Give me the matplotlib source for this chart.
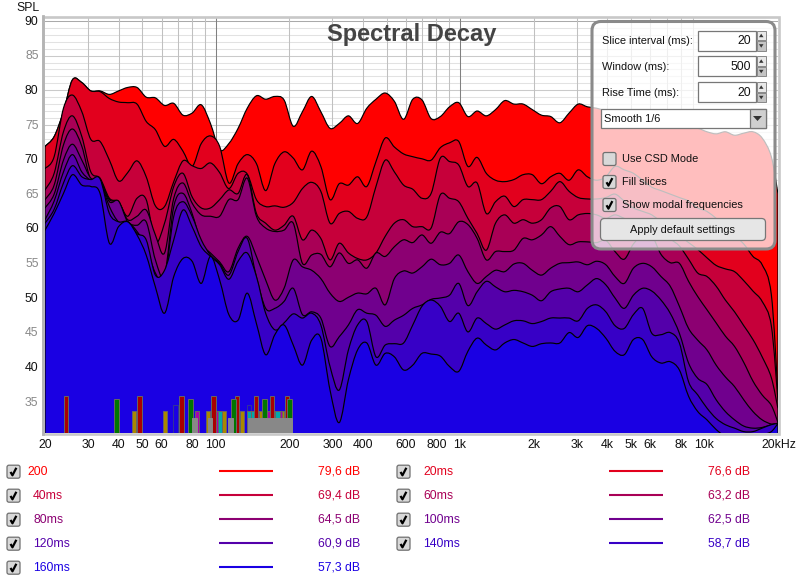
import numpy as np
import matplotlib
matplotlib.use("Agg")
import matplotlib.pyplot as plt
from matplotlib.path import Path
from matplotlib.patches import PathPatch, FancyBboxPatch, Rectangle, Polygon

plt.rcParams['font.family'] = ['Liberation Sans', 'DejaVu Sans']

freqs = [20, 21.8, 23.8, 25.9, 28.3, 30.8, 33.6, 36.7, 40, 43.6, 47.6, 51.9, 56.6, 61.7, 67.3, 73.4,
         80, 87.2, 95.1, 103.7, 113.1, 123.4, 134.5, 146.7, 160, 174.5, 190.3, 207.5, 226.3, 246.8,
         269.1, 293.5, 320, 349, 380.5, 415, 452.5, 493.6, 538.2, 587, 640, 698, 761, 830, 905, 987,
         1076, 1174, 1280, 1396, 1522, 1660, 1810, 1974, 2153, 2348, 2560, 2792, 3044, 3320, 3620,
         3948, 4305, 4695, 5120, 5584, 6089, 6640, 7241, 7896, 8611, 9390, 10240, 11167, 12178,
         13280, 14482, 15793, 17222, 18780, 20000]

slice_200 = [71.9,73.3,76.9,81.5,81.1,79.9,79.9,79.4,79.9,80.4,
             80.4,79.0,78.9,77.8,78.1,76.4,76.7,77.9,75.2,71.4,
             72.3,74.5,77.4,79.2,78.7,79.1,78.6,74.8,76.9,79.1,
             76.9,74.5,75.2,76.3,75.2,77.4,78.7,79.6,78.4,75.8,
             78.7,78.6,75.9,76.2,77.6,78.2,76.2,77.0,76.3,77.2,
             78.5,78.0,78.0,77.2,76.4,76.2,75.3,76.7,78.0,77.6,
             77.4,77,76.5,76,76.5,76,75.5,75.5,75,75,
             74.5,74.5,74,73.7,74.0,73.5,73.8,74,73.1,70.4,65]
slice_20 = [71.9,73.3,76.9,81.5,81.1,79.9,79.8,78.8,78.3,78.2,
            78.0,75.5,74.3,71.9,72.9,71.2,69.0,72.3,73.4,71.9,
            66.6,69.4,70.7,69.4,65.5,69.4,71.1,70.2,68.5,71.2,
            69.0,64.2,66.5,66.3,67.5,66.1,69.7,73.1,71.8,70.8,
            70.4,70.1,69.9,71.7,72.4,72.6,69.0,70.3,68.0,67.0,
            66.8,67.1,67.8,67.8,66.5,67.5,68.0,67.0,68.5,67.5,
            67.0,67.5,69,68.5,68,67,66,65.5,65,64.5,
            64,63,62.5,61.5,60.5,59,57.8,56.0,54.8,50.5,36]
slice_40 = [68.7,70.4,77.4,79.3,76.9,72.9,72.6,69.9,66.9,68.1,
            69.8,67.5,63.3,63.2,66.8,69.8,69.1,68.7,69.5,68.1,
            65.8,68.0,67.9,64.2,63.2,63.3,63.1,63.8,65.8,66.7,
            65.4,60.8,62.2,62.5,61.5,61.7,66.1,69.9,68.2,66.3,
            65.7,64.4,65.1,70.2,69.7,69.2,66.1,66.6,62.2,63.9,
            64.7,63.2,64.2,64.2,64.2,65.4,66.8,65.4,64.5,64.3,
            64.3,64.5,65,64,63,62.5,62,61,60,59,
            58,57,55.8,54.7,54.2,53.8,52.5,51,49.5,46,35]
slice_60 = [65.6,68.0,74.0,76.3,73.3,68.2,67.3,64.4,63.9,61.8,
            64.4,64.2,58.1,60.8,66.1,68.0,64.6,63.0,63.0,64.2,
            65.6,65.1,67.8,62.2,60.8,59.8,60.5,61.8,58.4,59.8,
            58.6,55.5,57.9,56.5,55.7,55.5,56.5,58.9,60.8,61.3,
            60.3,60.3,60.1,64.9,64.4,63.9,61.5,59.3,56.9,60.8,
            62.0,60.8,61.3,60.8,61.3,63.0,63.2,61.3,62.0,62.2,
            62,61.5,62,61.5,61,60.5,60,59.3,58.5,57.5,
            55.6,53.6,53.1,51.7,49.7,48,46,44,41.5,38.5,34]
slice_80 = [64.2,66.3,72.1,74.4,71.9,67.0,67.0,64.2,63.9,61.3,
            61.8,62.7,59.1,56.5,64.4,66.6,63.7,62.0,61.8,61.8,
            64.2,64.2,67.3,61.8,60.1,59.6,59.8,60.8,55.0,56.2,
            56.3,54.5,56.5,55.0,55.5,54.3,56.5,56.0,57.4,58.4,
            58.0,59.1,57.9,59.5,59.3,61.0,60.6,58.6,55.5,56.7,
            56.7,56.9,58.6,58.4,59.1,60.3,58.9,57.7,58.1,58.1,
            58,58.3,56.7,55.6,57.8,59,59,56.3,55.1,55.0,
            52.4,50.2,48.3,46.4,44.5,43,40.7,38,36,34.5,32]
slice_100 = [63,65,69.9,72.2,69.9,67.3,67.0,63.9,64.0,61,
             60.5,61,55.5,53.3,63.2,65.1,62.2,57.9,56.5,55.2,
             53.8,57.2,58.9,56,52.6,49.7,51.4,55.5,54.5,54.0,
             52.8,50.7,49.5,50.1,50.7,50.6,51.4,49,52.8,53.9,
             53.6,54.5,55.6,54.8,55,56.2,53.8,52.1,53.1,54.0,
             53.8,54.9,55.0,54,53.3,54.3,55,55.1,55.2,54.8,
             55.3,54.8,53.1,52.1,54.3,55,54.5,53.1,51.7,48.8,
             45.6,43.9,42.5,40.3,38.6,37.2,35.3,33.6,32.4,31.8,31.9]
slice_120 = [61.3,64,68.2,70.7,68.2,67,66.8,63.2,61,61,
             59.6,57.4,53.6,52.7,61.8,63.9,61.8,58.4,56.2,55,
             53.3,56.7,58.6,53,48.5,48.5,49.5,51.4,47.6,48.0,
             47.1,43,44.4,46.1,48.3,47.8,47.5,45.9,46.8,47.5,
             48.5,49,49.8,50,50.4,52.1,48.9,50.9,52.4,51.6,
             50.9,51.1,50.9,50.4,49.6,50.9,51.3,51.4,50.9,51.9,
             52.8,51.9,50,48.5,50.4,51.4,51,49.7,47.8,44.9,
             40.6,38.4,37.5,35.3,33.6,32.4,31.5,31.2,31.3,31.7,31.9]
slice_140 = [60.8,62.8,66.6,69.1,67.5,67.1,67.2,62.2,61,61,
             59.3,58.4,53.3,54.0,58.4,62.7,60.3,57.4,56,54.8,
             52.7,55.3,56.5,53.1,47.8,45.4,46.4,47.7,47.1,47.8,
             46.1,40.1,36.7,42.5,46.1,46.6,41.5,43.2,43.4,43.5,
             46.1,48.8,49.7,48.8,46.6,47.8,45.1,47.1,46.3,45.5,
             46.1,46.7,46.7,46.3,46.6,47.1,47.1,47.1,46.7,48.5,
             49,48,46,45.6,47.6,48.5,44.9,44.7,45,43.5,
             37.9,36,34.1,32.6,31.7,31.2,30.7,30.7,31.2,31.7,31.9]
slice_160 = [59.8,62.2,65.1,67.8,66.3,66.1,65.1,57.9,60.3,61.0,
             59.1,56.2,51.6,47.8,53.1,55.7,55.3,52.1,56.0,52.6,
             47.6,46.8,50.7,46.3,41.8,44.7,46.1,43.2,40.3,43.9,
             44.2,36.7,32.0,38.2,42.5,43.5,40.3,42.0,41.5,39.6,
             40.3,42.0,41.9,41.6,40.1,39.4,42.3,44.2,43.2,42.5,
             43.5,44.0,43.5,43.0,43.4,43.5,43.5,45.0,44.3,46.0,
             45.6,44.2,42.3,41.8,44.0,44.0,41.5,40.6,40.8,39.6,
             35.8,33.6,32.4,31.0,30.0,29.5,29.3,29.5,30.2,30.7,31.9]

slices = [slice_200, slice_20, slice_40, slice_60, slice_80, slice_100, slice_120, slice_140, slice_160]
slice_colors = ['#ff0000', '#e2001d', '#c6003a', '#a90056', '#8c0072', '#70008e', '#5400aa', '#3700c6', '#1a00e3']

legend_names = ['200', '20ms', '40ms', '60ms', '80ms', '100ms', '120ms', '140ms', '160ms']
legend_values = ['79,6 dB', '76,6 dB', '69,4 dB', '63,2 dB', '64,5 dB', '62,5 dB', '60,9 dB', '58,7 dB', '57,3 dB']

RED, GRN, GLD, PUR, TEA, GRY, NAV = '#aa0000', '#007700', '#aa8800', '#aa00aa', '#00aaaa', '#888888', '#1a00e3'
modal_freqs = [68.4, 136.6,
               46.2, 62, 92.8, 108, 127.8, 122, 118.6, 153, 171, 188, 195,
               72, 83.7, 101, 120, 147, 165, 183,
               78.4, 104, 136.6, 141.8, 158.8, 179,
               24.4, 48.6, 72.3, 97.6, 122, 146, 170, 196,
               39.3, 79, 118, 158, 200,
               82, 94.6, 115, 138, 143, 148, 153, 158, 164, 170, 176, 182, 188, 194, 200]
modal_tops = [34.5, 34.5] + [33.7]*11 + [33.7]*7 + [33.7]*6 + [35.9]*8 + [35.4]*5 + [32.7]*15
modal_colors = [NAV, NAV] + [GLD]*11 + [PUR]*7 + [TEA]*6 + [RED]*8 + [GRN]*5 + [GRY]*15

xtick_vals = [20, 30, 40, 50, 60, 80, 100, 200, 300, 400, 600, 800, 1000, 2000, 3000, 4000, 5000, 6000, 8000, 10000, 20000]
xtick_text = ['20', '30', '40', '50', '60', '80', '100', '200', '300', '400', '600', '800', '1k', '2k', '3k', '4k', '5k', '6k', '8k', '10k', '20kHz']
ytick_vals = [35, 40, 45, 50, 55, 60, 65, 70, 75, 80, 85, 90]

W, H = 800, 582
fig = plt.figure(figsize=(W/100, H/100), dpi=100)
fig.patch.set_facecolor('white')
T, B, L, R = 18, 433, 45, 778
ax = fig.add_axes([L/W, 1-B/H, (R-L)/W, (B-T)/H])
ax.set_xscale('log')
YMIN = 30.5
ax.set_xlim(20, 20000)
ax.set_ylim(YMIN, 90.43)
for s in ax.spines.values():
    s.set_visible(False)
ax.set_xticks([]); ax.set_yticks([])
ax.minorticks_off()
ax.tick_params(which='both', length=0, labelbottom=False, labelleft=False)

for v in np.arange(31, 91):
    c = '#aaaaaa' if v == 90 else '#cacaca' if v % 5 == 0 else '#e2e2e2'
    ax.axhline(v, color=c, lw=0.75, zorder=1)
for dec in (10, 100, 1000):
    for m in range(1, 10):
        f = dec*m
        if 20 < f < 20000:
            ax.axvline(f, color='#808080' if f in (100, 1000) else '#a8a8a8' if f == 10000 else '#c0c0c0', lw=0.75, zorder=1.5)


def smooth_path(xs, ys, base):
    lx = np.log10(np.asarray(xs, float))
    y = np.asarray(ys, float)
    verts = [(lx[0], y[0])]
    codes = [Path.MOVETO]
    n = len(lx)
    for i in range(n-1):
        p0 = (lx[max(i-1, 0)], y[max(i-1, 0)])
        p1 = (lx[i], y[i])
        p2 = (lx[i+1], y[i+1])
        p3 = (lx[min(i+2, n-1)], y[min(i+2, n-1)])
        c1 = (p1[0]+(p2[0]-p0[0])/6, p1[1]+(p2[1]-p0[1])/6)
        c2 = (p2[0]-(p3[0]-p1[0])/6, p2[1]-(p3[1]-p1[1])/6)
        verts += [c1, c2, p2]
        codes += [Path.CURVE4]*3
    verts = [(10**a, b) for a, b in verts]
    verts += [(xs[-1], base), (xs[0], base), (xs[0], ys[0])]
    codes += [Path.LINETO, Path.LINETO, Path.LINETO]
    return Path(verts, codes)


for i, (vals, col) in enumerate(zip(slices, slice_colors)):
    ax.add_patch(PathPatch(smooth_path(freqs, vals, YMIN-3), facecolor=col, edgecolor='black',
                           lw=0.85, zorder=3+i*0.1, joinstyle='round'))

half = 10**(2.3/244.5)
for f, top, col in zip(modal_freqs, modal_tops, modal_colors):
    edge = col if col == GRY else '#333399' if col == NAV else '#666666'
    ax.bar(f/half, top-YMIN, width=f*half-f/half, bottom=YMIN, align='edge', facecolor=col,
           edgecolor=edge, lw=0.7, zorder=5)

# overlay in pixel coordinates for frame, labels, legend and the control panel
ov = fig.add_axes([0, 0, 1, 1], zorder=5)
ov.set_xlim(0, W); ov.set_ylim(H, 0)
ov.axis('off')
ov.patch.set_alpha(0)

ov.add_patch(Rectangle((43.2, 16.5), 735.8, 417.7, fill=False, ec='#c8c8c8', lw=1.9))
ov.plot([43.2, 43.2], [16, 434], color='#b4b4b4', lw=2)

FS = 8.8
to_px_x = lambda f: L + (R-L)*np.log10(f/20)/3
to_px_y = lambda v: T + (B-T)*(90.43-v)/(90.43-YMIN)
for v in ytick_vals:
    ov.text(38.5, to_px_y(v)+0.7, str(v), ha='right', va='center', fontsize=FS, color='#111111' if v % 10 == 0 else '#888888')
ov.text(27.5, 8, 'SPL', ha='center', va='center', fontsize=FS, color='#111111')
for v, t in zip(xtick_vals, xtick_text):
    if t == '20kHz':
        ov.text(761, 445, t, ha='left', va='center', fontsize=FS, color='#111111')
    else:
        ov.text(to_px_x(v), 445, t, ha='center', va='center', fontsize=FS, color='#111111')

ov.text(411.5, 34, 'Spectral Decay', ha='center', va='center', fontsize=17, fontweight='bold', color='#444444')


def box(x0, y0, x1, y1, fc, ec='#777777', lw=0.8, r=1.5, z=6, alpha=None):
    p = FancyBboxPatch((x0+r, y0+r), x1-x0-2*r, y1-y0-2*r, boxstyle=f'round,pad={r},rounding_size={r}',
                       fc=fc, ec=ec, lw=lw, zorder=z, alpha=alpha)
    ov.add_patch(p)
    return p


def checkbox(x, y, size=13):
    box(x, y, x+size, y+size, '#d8d8d8', ec='#707070', lw=0.9, r=2, z=7)


def check(x, y, size=13):
    ov.plot([x+size*0.27, x+size*0.42, x+size*0.72], [y+size*0.52, y+size*0.78, y+size*0.2],
            color='black', lw=1.6, zorder=8, solid_capstyle='butt')


# legend
rows = [471.7, 495.7, 519.7, 543.7, 567.7]
for i in range(9):
    col = slice_colors[i]
    col_idx = i % 2
    row = i // 2
    y = rows[row]
    dx = 0 if col_idx == 0 else 390
    checkbox(7+dx, y-6.5)
    check(7+dx, y-6.5)
    lx = 27 if i == 0 else 33
    ov.text(lx+dx, y, legend_names[i], ha='left', va='center', fontsize=FS, color=col)
    ov.plot([219+dx, 273+dx], [y-0.5, y-0.5], color=col, lw=1.5, solid_capstyle='butt')
    ov.text(360+dx, y, legend_values[i], ha='right', va='center', fontsize=FS, color=col)

# control panel
box(592, 21.5, 775, 249, (1, 1, 1, 0.75), ec='#8a8a8a', lw=2.2, r=9, z=6)
for lab, y, val, y0 in [('Slice interval (ms):', 41, '20', 30.7), ('Window (ms):', 67, '500', 56.3), ('Rise Time (ms):', 93, '20', 82.3)]:
    ov.text(602, y, lab, ha='left', va='center', fontsize=7.9, color='#111111', zorder=9)
    ov.add_patch(Rectangle((697.5, y0), 58, 20, fc='white', ec='#777777', lw=0.9, zorder=7))
    ov.text(751, y0+10.3, val, ha='right', va='center', fontsize=FS, color='#111111', zorder=9)
    ov.add_patch(Rectangle((757, y0), 8.5, 9.7, fc='#e8e8e8', ec='#888888', lw=0.7, zorder=7))
    ov.add_patch(Rectangle((757, y0+10.3), 8.5, 9.7, fc='#c4c4c4', ec='#888888', lw=0.7, zorder=7))
    ov.add_patch(Polygon([(759, y0+6.5), (763.5, y0+6.5), (761.2, y0+3)], fc='#333333', ec='none', zorder=8))
    ov.add_patch(Polygon([(759, y0+13.5), (763.5, y0+13.5), (761.2, y0+17)], fc='#333333', ec='none', zorder=8))
ov.add_patch(Rectangle((600.5, 108.5), 165, 19.7, fc='white', ec='#777777', lw=0.9, zorder=7))
ov.add_patch(Rectangle((749.5, 108.5), 16, 19.7, fc='#d0d0d0', ec='#777777', lw=0.9, zorder=7))
ov.add_patch(Polygon([(753, 116), (762, 116), (757.5, 121)], fc='#333333', ec='none', zorder=8))
ov.text(603.5, 118.7, 'Smooth 1/6', ha='left', va='center', fontsize=7.9, color='#111111', zorder=9)
for lab, y, on in [('Use CSD Mode', 159, False), ('Fill slices', 182, True), ('Show modal frequencies', 205, True)]:
    checkbox(603, y-6.5)
    if on:
        check(603, y-6.5)
    ov.text(621.5, y, lab, ha='left', va='center', fontsize=7.9, color='#111111', zorder=9)
box(600.5, 218.5, 765.5, 240.5, '#e6e6e6', ec='#777777', lw=0.9, r=4, z=7)
ov.text(683, 230, 'Apply default settings', ha='center', va='center', fontsize=7.9, color='#111111', zorder=9)

fig.savefig('out.png', dpi=100, facecolor='white')
